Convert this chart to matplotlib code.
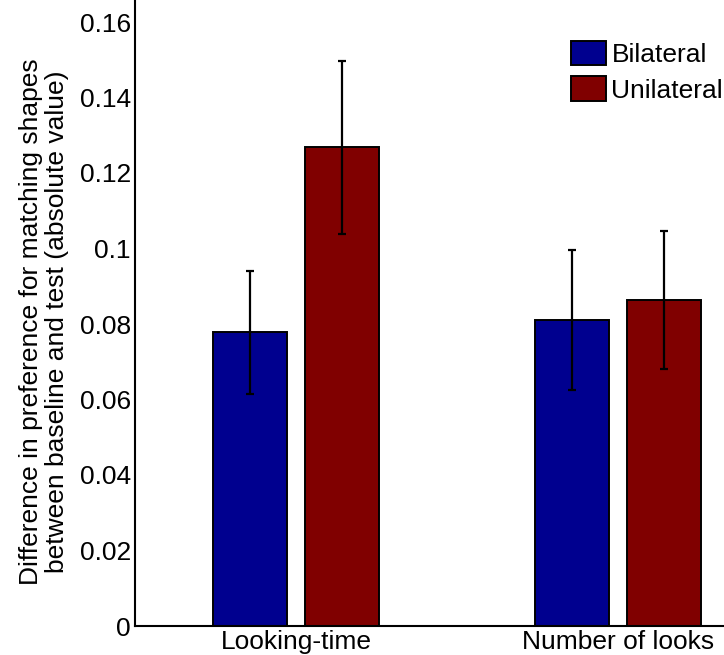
import numpy as np
import matplotlib
matplotlib.use("Agg")
import matplotlib.pyplot as plt

plt.rcParams['font.family'] = ['Liberation Sans', 'DejaVu Sans']

# Daten
kategorien = ['Looking-time', 'Number of looks']
bilateral = [0.0778, 0.0811]
bilateral_err = [0.0163, 0.0186]
unilateral = [0.1268, 0.0864]
unilateral_err = [0.0229, 0.0183]
y_ticks = [0, 0.02, 0.04, 0.06, 0.08, 0.1, 0.12, 0.14, 0.16]
y_tick_labels = ['0', '0.02', '0.04', '0.06', '0.08', '0.1', '0.12', '0.14', '0.16']

W, H = 724, 655
fig = plt.figure(figsize=(W / 100, H / 100), dpi=100)

# Achse ragt rechts und oben über den Bildrand hinaus (wie im Original abgeschnitten)
left, right, bottom, top = 135, 779, 626, -53.5
ax = fig.add_axes([left / W, (H - bottom) / H, (right - left) / W, (bottom - top) / H])

x = np.arange(1, len(kategorien) + 1)
breite = 0.23
versatz = 0.143

err_kw = dict(ecolor='black', elinewidth=1.6, capsize=3, capthick=1.6)
ax.bar(x - versatz, bilateral, breite, yerr=bilateral_err, color='#00008F',
       edgecolor='black', linewidth=1.4, label='Bilateral', error_kw=err_kw)
ax.bar(x + versatz, unilateral, breite, yerr=unilateral_err, color='#800000',
       edgecolor='black', linewidth=1.4, label='Unilateral', error_kw=err_kw)

ax.set_xlim(0.5, 2.5)
ax.set_ylim(0, 0.18)
ax.set_yticks(y_ticks)
ax.set_yticklabels(y_tick_labels)
ax.set_xticks(x)
ax.set_xticklabels(kategorien)
ax.tick_params(axis='both', length=0, labelsize=19, pad=3)

for s in ['top', 'right']:
    ax.spines[s].set_visible(False)
for s in ['left', 'bottom']:
    ax.spines[s].set_linewidth(1.5)

ax.set_ylabel('Difference in preference for matching shapes\nbetween baseline and test (absolute value)',
              fontsize=19, linespacing=1.12)
ax.yaxis.set_label_coords((69 - left) / (right - left), (bottom - 322) / (bottom - top))

ax.legend(loc='upper left', bbox_to_anchor=(571 / W, 1 - 41 / H),
          bbox_transform=fig.transFigure, frameon=False, fontsize=19,
          handlelength=1.33, handleheight=1.05, handletextpad=0.2,
          labelspacing=0.35, borderpad=0, borderaxespad=0)

fig.savefig('out.png', dpi=100)
